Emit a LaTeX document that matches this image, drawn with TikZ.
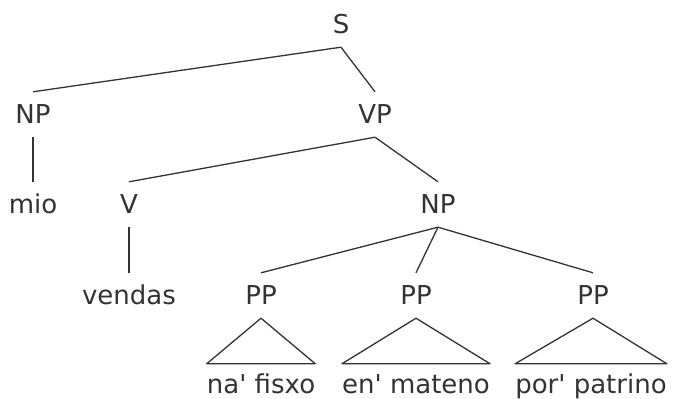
\documentclass[tikz,border=0pt]{standalone}
\usepackage{fontspec}
\setmainfont{DejaVu Sans}
\usetikzlibrary{math}
\usetikzlibrary{positioning}
\tikzset{cat/.style={anchor=base, inner xsep=0pt, inner ysep=11pt, text height=20pt, text depth=3pt, text=black!80, font=\fontsize{26}{30}\selectfont},
	leaf/.style={cat, inner ysep=9pt},
	branch/.style={draw=black!80, line width=1.3pt, line join=round}}

\begin{document}
\begin{tikzpicture}[x=1pt,y=-1pt]
	\tikzmath{\lva=33; \lvb=123; \lvc=213; \lvd=304; \lve=393;}
	\useasboundingbox (0,0) rectangle (673,399);
	\node[cat] (s) at (341,\lva) {S};
	\node[cat] (np) at (33,\lvb) {NP};
	\node[cat] (vp) at (375,\lvb) {VP};
	\node[cat] (mio) at (33,\lvc) {mio};
	\node[cat] (v) at (129,\lvc) {V};
	\node[cat] (npb) at (438,\lvc) {NP};
	\node[cat] (vendas) at (129,\lvd) {vendas};
	\node[cat] (ppa) at (261,\lvd) {PP};
	\node[cat] (ppb) at (416,\lvd) {PP};
	\node[cat] (ppc) at (593,\lvd) {PP};
	\node[leaf] (leafa) at (261,\lve) {na\textquotesingle{} fisxo};
	\node[leaf] (leafb) at (416,\lve) {en\textquotesingle{} mateno};
	\node[leaf] (leafc) at (591,\lve) {por\textquotesingle{} patrino};

	\draw[branch] (s.south) -- (np.north);
	\draw[branch] (s.south) -- (vp.north);
	\draw[branch] (np.south) -- (mio.north);
	\draw[branch] (vp.south) -- (v.north);
	\draw[branch] (vp.south) -- (npb.north);
	\draw[branch] (v.south) -- (vendas.north);
	\draw[branch] (npb.south) -- (ppa.north);
	\draw[branch] (npb.south) -- (ppb.north);
	\draw[branch] (npb.south) -- (ppc.north);
	\draw[branch] (ppa.south) -- (leafa.north west) -- (leafa.north east) -- cycle;
	\draw[branch] (ppb.south) -- (leafb.north west) -- (leafb.north east) -- cycle;
	\draw[branch] (ppc.south) -- (leafc.north west) -- (leafc.north east) -- cycle;
\end{tikzpicture}
\end{document}
